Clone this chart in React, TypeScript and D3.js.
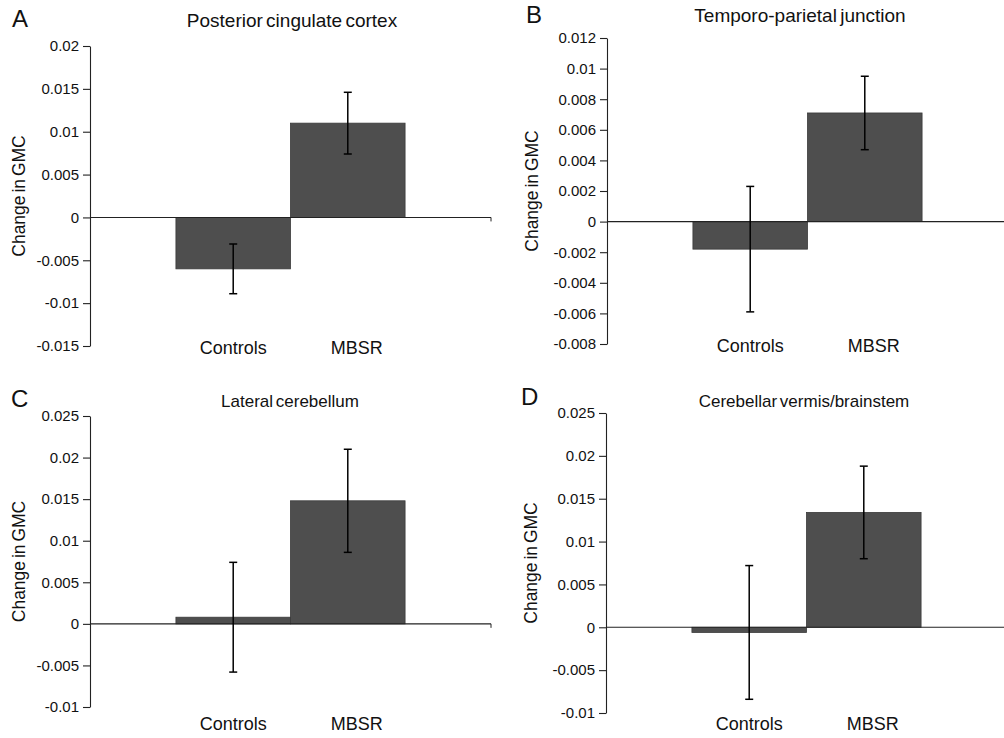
import * as d3 from "d3";
import { useEffect, useRef } from "react";

// groups (two series of the same category)
const groups = ["Controls", "MBSR"];

const panelLetters = ["A", "B", "C", "D"];
const panelTitles = [
  "Posterior cingulate cortex",
  "Temporo-parietal junction",
  "Lateral cerebellum",
  "Cerebellar vermis/brainstem",
];

// mean change in GMC per group
const meansA = [-0.006, 0.011];
const meansB = [-0.0018, 0.0071];
const meansC = [0.0008, 0.0148];
const meansD = [-0.0006, 0.0134];

// error bar half-lengths
const errA = [0.0029, 0.0036];
const errB = [0.0041, 0.0024];
const errC = [0.0066, 0.0062];
const errD = [0.0078, 0.0054];

// y tick values
const ticksA = [-0.015, -0.01, -0.005, 0, 0.005, 0.01, 0.015, 0.02];
const ticksB = [-0.008, -0.006, -0.004, -0.002, 0, 0.002, 0.004, 0.006, 0.008, 0.01, 0.012];
const ticksC = [-0.01, -0.005, 0, 0.005, 0.01, 0.015, 0.02, 0.025];
const ticksD = [-0.01, -0.005, 0, 0.005, 0.01, 0.015, 0.02, 0.025];

const allMeans = [meansA, meansB, meansC, meansD];
const allErrs = [errA, errB, errC, errD];
const allTicks = [ticksA, ticksB, ticksC, ticksD];

// placement of each panel on the page
const layout = [
  { x0: 90, x1: 491, top: 46, bottom: 346, letter: [12, 27], title: [292, 27], titleSize: 19, label: 354, ylab: 25 },
  { x0: 607, x1: 1008, top: 38, bottom: 344, letter: [526, 23], title: [800, 22], titleSize: 19, label: 352, ylab: 538 },
  { x0: 90, x1: 491, top: 416, bottom: 707, letter: [11, 407], title: [290, 407], titleSize: 17, label: 730, ylab: 25 },
  { x0: 606, x1: 1007, top: 413, bottom: 713, letter: [521, 405], title: [804, 407], titleSize: 17, label: 730, ylab: 537 },
];

const labelShift = [0, 9];
const font = "'Liberation Sans', Arial, sans-serif";
const barColor = "#4e4e4e";

const fmt = (v: number) => String(+v.toFixed(4));

function Panel({ i }: { i: number }) {
  const ref = useRef<SVGGElement>(null);

  useEffect(() => {
    const L = layout[i];
    const ticks = allTicks[i];
    const means = allMeans[i];
    const errs = allErrs[i];
    const data = groups.map((g, k) => ({ g, k, v: means[k], e: errs[k] }));

    const g = d3.select(ref.current);
    g.selectAll("*").remove();

    const y = d3
      .scaleLinear()
      .domain([ticks[0], ticks[ticks.length - 1]])
      .range([L.bottom, L.top]);

    const x = d3
      .scaleBand()
      .domain(groups)
      .range([L.x0, L.x1])
      .paddingInner(0)
      .paddingOuter(0.75);

    // bars
    g.selectAll(".bar")
      .data(data)
      .join("rect")
      .attr("class", "bar")
      .attr("x", (d) => x(d.g))
      .attr("y", (d) => Math.min(y(d.v), y(0)))
      .attr("width", x.bandwidth())
      .attr("height", (d) => Math.abs(y(0) - y(d.v)))
      .attr("fill", barColor)
      .attr("stroke", "#3a3a3a")
      .attr("stroke-width", 0.8);

    // y axis
    const yAxis = d3
      .axisLeft(y)
      .tickValues(ticks)
      .tickSize(7)
      .tickSizeOuter(0)
      .tickPadding(4)
      .tickFormat((d) => fmt(d as number));
    const ax = g.append("g").attr("transform", `translate(${L.x0},0)`).call(yAxis);
    ax.selectAll("path, line").attr("stroke", "#222").attr("stroke-width", 1.1);
    ax.selectAll("text")
      .attr("font-family", font)
      .attr("font-size", 15)
      .attr("fill", "#111");

    // zero line
    g.append("line")
      .attr("x1", L.x0)
      .attr("x2", L.x1)
      .attr("y1", y(0))
      .attr("y2", y(0))
      .attr("stroke", "#222")
      .attr("stroke-width", 1.1);
    g.append("line")
      .attr("x1", L.x1)
      .attr("x2", L.x1)
      .attr("y1", y(0))
      .attr("y2", y(0) + 4)
      .attr("stroke", "#222");

    // error bars
    const cx = (d) => x(d.g) + x.bandwidth() / 2;
    const eb = g.selectAll(".err").data(data).join("g").attr("class", "err")
      .attr("stroke", "#000").attr("stroke-width", 1.5);
    eb.append("line")
      .attr("x1", cx).attr("x2", cx)
      .attr("y1", (d) => y(d.v + d.e))
      .attr("y2", (d) => y(d.v - d.e));
    eb.append("line")
      .attr("x1", (d) => cx(d) - 4).attr("x2", (d) => cx(d) + 4)
      .attr("y1", (d) => y(d.v + d.e)).attr("y2", (d) => y(d.v + d.e));
    eb.append("line")
      .attr("x1", (d) => cx(d) - 4).attr("x2", (d) => cx(d) + 4)
      .attr("y1", (d) => y(d.v - d.e)).attr("y2", (d) => y(d.v - d.e));

    // category labels
    g.selectAll(".cat")
      .data(data)
      .join("text")
      .attr("class", "cat")
      .attr("x", (d) => cx(d) + labelShift[d.k])
      .attr("y", L.label)
      .attr("text-anchor", "middle")
      .attr("font-family", font)
      .attr("font-size", 18)
      .attr("fill", "#111")
      .text((d) => d.g);

    // y label
    const ym = (L.top + L.bottom) / 2;
    g.append("text")
      .attr("transform", `translate(${L.ylab},${ym}) rotate(-90)`)
      .attr("text-anchor", "middle")
      .attr("font-family", font)
      .attr("font-size", 17.5)
      .attr("word-spacing", -2)
      .attr("fill", "#111")
      .text("Change in GMC");

    // title
    g.append("text")
      .attr("x", L.title[0])
      .attr("y", L.title[1])
      .attr("text-anchor", "middle")
      .attr("font-family", font)
      .attr("font-size", L.titleSize)
      .attr("word-spacing", -2)
      .attr("fill", "#111")
      .text(panelTitles[i]);

    // panel letter
    g.append("text")
      .attr("x", L.letter[0])
      .attr("y", L.letter[1])
      .attr("font-family", font)
      .attr("font-size", 24)
      .attr("fill", "#111")
      .text(panelLetters[i]);
  }, [i]);

  return <g ref={ref} />;
}

export default function App() {
  return (
    <svg
      width={1004}
      height={738}
      style={{ position: "absolute", left: 0, top: 0, background: "#fff" }}
    >
      <rect width={1004} height={738} fill="#fff" />
      {panelTitles.map((_, i) => (
        <Panel key={i} i={i} />
      ))}
    </svg>
  );
}
